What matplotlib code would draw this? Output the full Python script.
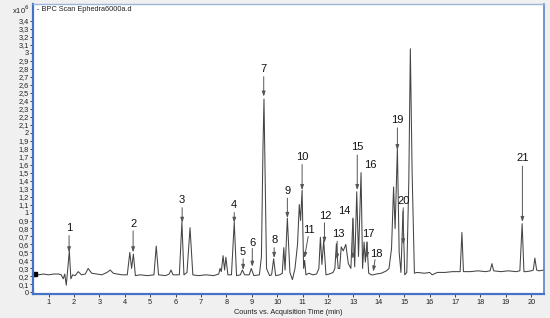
import numpy as np
import matplotlib
matplotlib.use('Agg')
import matplotlib.pyplot as plt

plt.rcParams['font.family'] = ['Liberation Sans', 'DejaVu Sans']

# BPC trace (retention time in min, counts x10^6)
rt = [0.39, 0.6, 0.8, 1.0, 1.2, 1.4, 1.5, 1.58, 1.64, 1.7, 1.76, 1.82, 1.88, 1.95,
      2.05, 2.17, 2.3, 2.45, 2.56, 2.7, 2.9, 3.1, 3.3, 3.43, 3.55, 3.7, 3.9, 4.1,
      4.2, 4.27, 4.34, 4.42, 4.6, 4.9, 5.15, 5.24, 5.33, 5.6, 5.75, 5.82, 5.9,
      6.15, 6.25, 6.33, 6.45, 6.57, 6.68, 6.9, 7.2, 7.5, 7.7, 7.75, 7.8, 7.87,
      7.93, 7.98, 8.06, 8.2, 8.31, 8.4, 8.55, 8.63, 8.72, 8.9, 8.98, 9.08, 9.3,
      9.38, 9.44, 9.48, 9.52, 9.58, 9.7, 9.78, 9.86, 9.94, 10.1, 10.2, 10.26,
      10.31, 10.4, 10.5, 10.6, 10.7, 10.8, 10.87, 10.92, 10.98, 11.04, 11.08,
      11.13, 11.25, 11.4, 11.55, 11.64, 11.7, 11.76, 11.83, 11.92, 12.05, 12.2,
      12.27, 12.33, 12.4, 12.46, 12.52, 12.6, 12.7, 12.8, 12.9, 12.98, 13.05,
      13.13, 13.2, 13.3, 13.36, 13.42, 13.47, 13.53, 13.6, 13.7, 13.78, 13.9,
      14.1, 14.3, 14.4, 14.5, 14.58, 14.64, 14.73, 14.8, 14.87, 14.95, 15.02,
      15.1, 15.18, 15.24, 15.31, 15.4, 15.5, 15.8, 16.0, 16.1, 16.3, 16.6, 16.9,
      17.2, 17.27, 17.33, 17.6, 17.9, 18.2, 18.38, 18.45, 18.52, 18.8, 19.1,
      19.4, 19.55, 19.64, 19.71, 19.8, 20.0, 20.08, 20.14, 20.21, 20.3, 20.5]
counts = [0.23, 0.22, 0.23, 0.22, 0.23, 0.23, 0.22, 0.17, 0.23, 0.09, 0.30, 0.52,
          0.17, 0.22, 0.21, 0.26, 0.22, 0.23, 0.30, 0.24, 0.23, 0.22, 0.25, 0.28,
          0.24, 0.23, 0.22, 0.22, 0.50, 0.30, 0.48, 0.21, 0.22, 0.21, 0.22, 0.58,
          0.22, 0.21, 0.23, 0.28, 0.22, 0.22, 0.88, 0.22, 0.25, 0.81, 0.22, 0.21,
          0.22, 0.21, 0.23, 0.30, 0.26, 0.46, 0.28, 0.44, 0.22, 0.22, 0.88, 0.21,
          0.22, 0.28, 0.22, 0.22, 0.30, 0.21, 0.22, 0.45, 1.80, 2.42, 1.60, 0.30,
          0.21, 0.22, 0.42, 0.21, 0.22, 0.24, 0.56, 0.28, 0.93, 0.25, 0.16, 0.30,
          0.60, 1.10, 0.90, 1.28, 0.30, 0.40, 0.22, 0.24, 0.22, 0.23, 0.30, 0.69,
          0.35, 0.65, 0.22, 0.23, 0.25, 0.30, 0.61, 0.30, 0.30, 0.57, 0.52, 0.60,
          0.36, 0.30, 0.93, 0.32, 1.26, 0.45, 1.50, 0.30, 0.63, 0.38, 0.63, 0.24,
          0.22, 0.22, 0.23, 0.24, 0.27, 0.30, 0.55, 1.32, 0.80, 1.80, 0.50, 0.25,
          1.02, 0.22, 0.25, 1.40, 3.05, 1.50, 0.24, 0.25, 0.24, 0.25, 0.22, 0.25,
          0.25, 0.26, 0.26, 0.75, 0.26, 0.26, 0.27, 0.26, 0.27, 0.36, 0.27, 0.26,
          0.27, 0.26, 0.27, 0.86, 0.26, 0.26, 0.27, 0.28, 0.43, 0.28, 0.27, 0.28]

# peak labels: text position, arrow start, arrow tip (None = label only)
peak_ids = [str(i) for i in range(1, 22)]
label_xy = [(1.81, 0.80), (4.33, 0.86), (6.26, 1.16), (8.31, 1.10), (8.66, 0.51),
            (9.02, 0.62), (9.47, 2.80), (9.88, 0.65), (10.40, 1.27), (10.98, 1.70),
            (11.24, 0.78), (11.89, 0.96), (12.40, 0.73), (12.64, 1.02), (13.15, 1.82),
            (13.66, 1.60), (13.58, 0.73), (13.90, 0.48), (14.73, 2.16), (14.96, 1.15),
            (19.65, 1.68)]
arrow_from = [(1.81, 0.71), (4.33, 0.77), (6.26, 1.06), (8.31, 1.00), (8.66, 0.42),
              (9.02, 0.55), (9.47, 2.70), (9.88, 0.56), (10.40, 1.18), (10.98, 1.60),
              (11.22, 0.70), (11.86, 0.87), (12.36, 0.64), (12.98, 0.92), (13.15, 1.72),
              None, (13.54, 0.63), (13.85, 0.41), (14.73, 2.06), (14.96, 1.06),
              (19.65, 1.58)]
arrow_to = [(1.81, 0.50), (4.33, 0.50), (6.26, 0.87), (8.31, 0.87), (8.66, 0.28),
            (9.02, 0.32), (9.47, 2.45), (9.88, 0.43), (10.40, 0.93), (10.98, 1.28),
            (11.07, 0.43), (11.86, 0.62), (12.36, 0.41), (12.98, 0.42), (13.15, 1.28),
            None, (13.54, 0.43), (13.78, 0.26), (14.73, 1.78), (14.96, 0.60),
            (19.65, 0.88)]

yticks = np.round(np.arange(0, 3.45, 0.1), 1)
ytick_labels = [('%g' % v).replace('.', ',') for v in yticks]
xticks = list(range(1, 21))

fig = plt.figure(figsize=(5.5, 3.18), dpi=100, facecolor='#f0f0f0')
ax = fig.add_axes([33/550, 1-294/318, 511/550, 290/318])
ax.set_facecolor('white')

ax.plot(rt, counts, color='#444444', lw=0.75)
ax.plot(rt[0] + 0.06, counts[0], 's', color='black', ms=2.5)

for lab, txy, a0, a1 in zip(peak_ids, label_xy, arrow_from, arrow_to):
    ax.text(txy[0], txy[1], lab, ha='center', va='center', fontsize=8, color='#111111')
    if a0 is not None:
        ax.annotate('', xy=a1, xytext=a0,
                    arrowprops=dict(arrowstyle='-|>,head_length=0.3,head_width=0.1',
                                    color='#555555', lw=0.7, shrinkA=0, shrinkB=0))

ax.set_xlim(0.39, 20.5)
ax.set_ylim(-0.02, 3.61)
ax.set_yticks(yticks)
ax.set_yticklabels(ytick_labels)
ax.set_xticks(xticks)
ax.tick_params(axis='both', labelsize=5.3, colors='#222222', length=2.5, width=0.6, pad=1)
ax.tick_params(axis='y', pad=0.5)

for s in ['left', 'bottom']:
    ax.spines[s].set_color('#4472c4')
    ax.spines[s].set_linewidth(1.6)
ax.spines['top'].set_color('#9fb4dc')
ax.spines['top'].set_linewidth(1.0)
ax.spines['right'].set_color('#5b82c8')
ax.spines['right'].set_linewidth(1.2)

ax.text(0.008, 0.98, '- BPC Scan Ephedra6000a.d', transform=ax.transAxes,
        ha='left', va='center', fontsize=5.3, color='#222222')
fig.text(12/550, 1-10/318, 'x10$^{6}$', ha='left', va='center', fontsize=5.5, color='#222222')
ax.set_xlabel('Counts vs. Acquisition Time (min)', fontsize=5.3, color='#222222', labelpad=2)

fig.savefig('out.png', dpi=100, facecolor=fig.get_facecolor())
